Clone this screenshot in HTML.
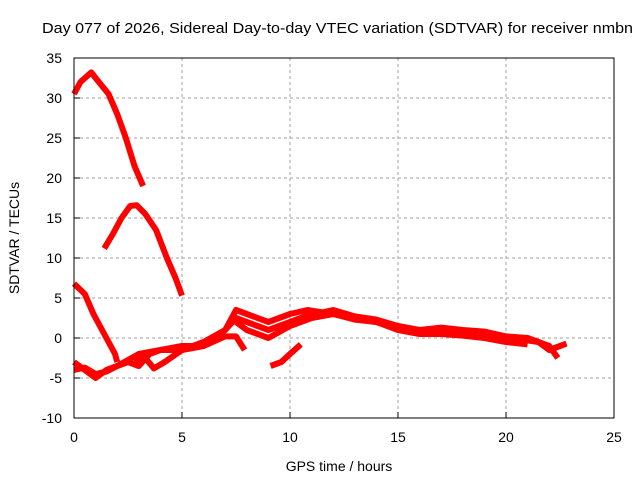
<!DOCTYPE html>
<html><head><meta charset="utf-8"><style>
body{margin:0;background:#fff}
svg text{font-family:"Liberation Sans",sans-serif;font-size:14px;fill:#000}
</style></head><body>
<svg id="chart" width="640" height="480">
<text x="42" y="33" textLength="591" lengthAdjust="spacingAndGlyphs" style="font-size:15px">Day 077 of 2026, Sidereal Day-to-day VTEC variation (SDTVAR) for receiver nmbn</text>
<text x="339" y="471" text-anchor="middle">GPS time / hours</text>
<text transform="translate(19,238) rotate(-90)" text-anchor="middle">SDTVAR / TECUs</text>
<g id="grid"></g><g id="series"></g>
<rect x="74" y="58" width="540" height="360" fill="none" stroke="#000" stroke-width="1"/>
</svg>
<script>
const xTicks=[0,5,10,15,20,25];
const yTicks=[-10,-5,0,5,10,15,20,25,30,35];
const seriesA=[[0,30.5],[0.3,32],[0.8,33.2],[1.0,32.5],[1.6,30.5],[2.0,28],[2.4,25],[2.8,21.5],[3.2,19]];
const seriesB=[[1.4,11.2],[1.8,13],[2.2,15],[2.6,16.5],[2.9,16.6],[3.3,15.5],[3.8,13.5],[4.3,10],[4.7,7.5],[5.0,5.3]];
const seriesC=[[0,6.8],[0.5,5.5],[0.9,3],[1.2,1.5],[1.6,-0.5],[1.9,-2],[2.0,-3]];
const seriesD=[[0,-4],[0.5,-3.7],[1,-4.5],[1.5,-4.2],[2,-3.5],[2.5,-3],[3,-3.5],[3.5,-2],[4,-1.5],[5,-1.5],[6,-0.5],[7,1],[7.5,2.5],[8,2],[8.5,1.5],[9,1],[10,2],[11,3],[12,3],[13,2.5],[14,2],[15,1.2],[16,0.8],[17,1],[18,0.8],[19,0.5],[20,0],[21,-0.3],[21.5,-0.5],[22,-1.5],[22.5,-1],[22.8,-0.7]];
const seriesE=[[0,-3],[0.5,-4],[1,-5],[1.5,-4],[2,-3.5],[3,-2],[4,-1.5],[5,-1],[6,-1],[7,1],[7.5,3.5],[8,3],[9,2],[10,3],[10.8,3.5],[11.5,3.2],[12,3.5],[13,2.7],[14,2.3],[15,1.5],[16,1],[17,1.3],[18,1],[19,0.8],[20,0.2],[21,0],[22,-1],[22.4,-2.5]];
const seriesF=[[2.8,-3],[3.3,-2.5],[3.7,-3.8],[4.2,-3],[5,-1.5],[6,-1],[7,0.2],[7.5,0.2],[7.9,-1.5]];
const seriesG=[[9.1,-3.5],[9.6,-3],[10,-2],[10.5,-0.8]];
const seriesH=[[7.5,2],[8,1],[9,0],[10,1.5],[11,2.5],[12,3],[13,2.3],[14,2],[15,1],[16,0.5],[17,0.5],[18,0.3],[19,0],[20,-0.5],[21,-0.8]];
const allSeries=[seriesA,seriesB,seriesC,seriesD,seriesE,seriesF,seriesG,seriesH];
const NS='http://www.w3.org/2000/svg';
function sx(v){return 74+v*21.6;}
function sy(v){return 338-v*8;}
const grid=document.getElementById('grid');
function mk(tag,attrs,parent){const e=document.createElementNS(NS,tag);for(const k in attrs)e.setAttribute(k,attrs[k]);parent.appendChild(e);return e;}
xTicks.forEach(t=>{
  if(t>0&&t<25){const l=mk('line',{x1:sx(t),x2:sx(t),y1:58,y2:418,stroke:'#a0a0a0','stroke-dasharray':'3,3'},grid);
  
  }
  const tk=mk('line',{x1:sx(t),x2:sx(t),y1:418,y2:412,stroke:'#000'},grid);
  
  
  const tx=mk('text',{x:sx(t),y:442,'text-anchor':'middle'},grid);tx.textContent=t;
  
  
});
yTicks.forEach(t=>{
  if(t>-10&&t<35){const l=mk('line',{x1:74,x2:614,y1:sy(t),y2:sy(t),stroke:'#a0a0a0','stroke-dasharray':'3,3'},grid);
  
  }
  const tk=mk('line',{x1:74,x2:80,y1:sy(t),y2:sy(t),stroke:'#000'},grid);
  
  
  const tx=mk('text',{x:62,y:sy(t)+5,'text-anchor':'end'},grid);tx.textContent=t;
  
  
});
const sg=document.getElementById('series');
allSeries.forEach((s,i)=>{
  const p=mk('polyline',{points:s.map(d=>sx(d[0])+','+sy(d[1])).join(' '),fill:'none',stroke:'#ff0000','stroke-width':6,'stroke-linejoin':'round'},sg);
  
  
});
</script>
</body></html>
